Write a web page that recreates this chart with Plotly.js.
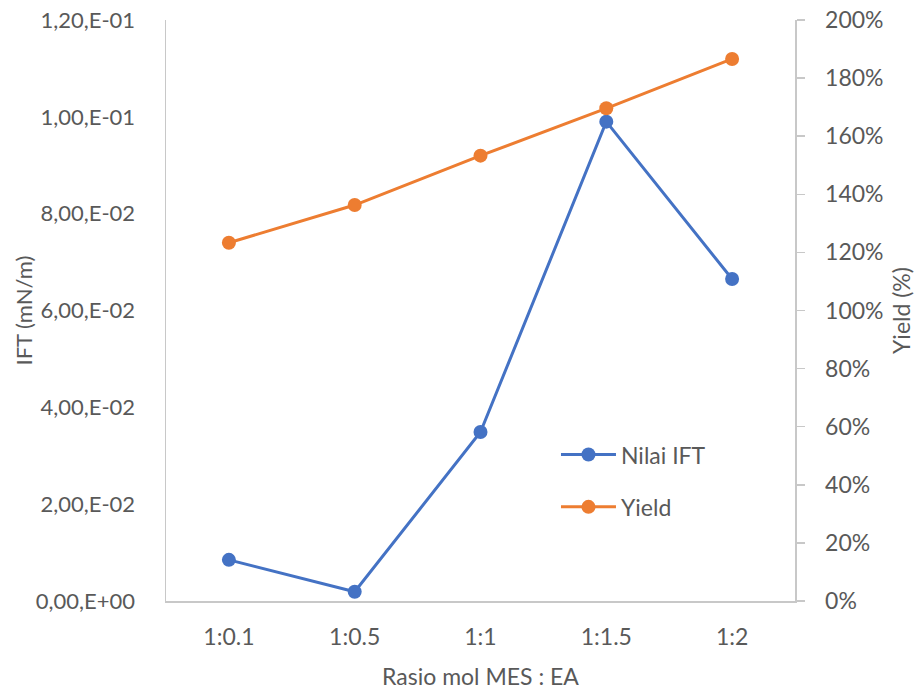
<!DOCTYPE html>
<html>
<head>
<meta charset="utf-8">
<script src="https://cdn.plot.ly/plotly-3.0.1.min.js"></script>
<style>
  html, body { margin: 0; padding: 0; background: #fff; }
  #chart { width: 918px; height: 691px; }
</style>
</head>
<body>
<div id="chart"></div>
<script>
// Molar ratio MES : EA
const ratios = ['1:0.1', '1:0.5', '1:1', '1:1.5', '1:2'];
// Interfacial tension (mN/m)
const iftValues = [0.0085, 0.0019, 0.0349, 0.0990, 0.0665];
// Yield (%)
const yieldValues = [123.3, 136.3, 153.3, 169.6, 186.6];

// Left axis ticks in the comma-decimal scientific style
const iftTicks = [0, 0.02, 0.04, 0.06, 0.08, 0.10, 0.12];
const iftTickText = ['0,00,E+00', '2,00,E-02', '4,00,E-02', '6,00,E-02', '8,00,E-02', '1,00,E-01', '1,20,E-01'];
// Right axis ticks
const yieldTicks = [0, 20, 40, 60, 80, 100, 120, 140, 160, 180, 200];
const yieldTickText = yieldTicks.map(v => v + '%');

const FONT = 'Lato, "Open Sans", sans-serif';
const SIZE = 23;
const GREY = '#595959';
const AXIS = '#C8C8C8';
const txt = { family: FONT, size: SIZE, color: GREY };
const txtLeft = { family: FONT, size: 22, color: GREY };

const traces = [
  {
    x: ratios, y: iftValues, name: 'Nilai IFT', type: 'scatter', mode: 'lines+markers',
    line: { color: '#4472C4', width: 3 },
    marker: { color: '#4472C4', size: 14 },
    yaxis: 'y', legend: 'legend'
  },
  {
    x: ratios, y: yieldValues, name: 'Yield', type: 'scatter', mode: 'lines+markers',
    line: { color: '#ED7D31', width: 3 },
    marker: { color: '#ED7D31', size: 14 },
    yaxis: 'y2', legend: 'legend2'
  }
];

const legendStyle = {
  xref: 'paper', yref: 'paper', xanchor: 'left', yanchor: 'middle',
  bgcolor: 'rgba(0,0,0,0)', font: txt, itemwidth: 55
};

const layout = {
  width: 918, height: 691,
  margin: { l: 166, r: 123, t: 20, b: 90 },
  paper_bgcolor: '#fff', plot_bgcolor: '#fff',
  font: txt,
  xaxis: {
    type: 'category', range: [-0.5, 4.5], showgrid: false, zeroline: false,
    showline: true, linecolor: AXIS, linewidth: 1.5,
    ticks: '', ticklabelstandoff: 15, tickfont: txt,
    title: { text: 'Rasio mol MES : EA', font: txt, standoff: 20 }
  },
  yaxis: {
    range: [0, 0.12], tickvals: iftTicks, ticktext: iftTickText,
    showgrid: false, zeroline: false, showline: true, linecolor: AXIS, linewidth: 1.5,
    ticks: '', ticklabelstandoff: 25, tickfont: txtLeft
  },
  yaxis2: {
    overlaying: 'y', side: 'right', range: [0, 200],
    tickvals: yieldTicks, ticktext: yieldTickText,
    showgrid: false, zeroline: false, showline: true, linecolor: AXIS, linewidth: 1.5,
    ticks: 'outside', ticklen: 8, tickcolor: AXIS, tickwidth: 1.5, ticklabelstandoff: 16,
    tickfont: txt,
    title: { text: 'Yield (%)', font: txt, standoff: 11 }
  },
  // Left axis title, set close to its tick labels
  annotations: [{
    text: 'IFT (mN/m)', font: txtLeft, textangle: -90, showarrow: false,
    xref: 'paper', yref: 'paper', x: 0, y: 0.5,
    xanchor: 'center', yanchor: 'middle', xshift: -143
  }],
  legend: Object.assign({ x: 0.62, y: 0.252 }, legendStyle),
  legend2: Object.assign({ x: 0.62, y: 0.162 }, legendStyle),
  showlegend: true
};

Plotly.newPlot('chart', traces, layout, { displayModeBar: false, staticPlot: true });
</script>
</body>
</html>
